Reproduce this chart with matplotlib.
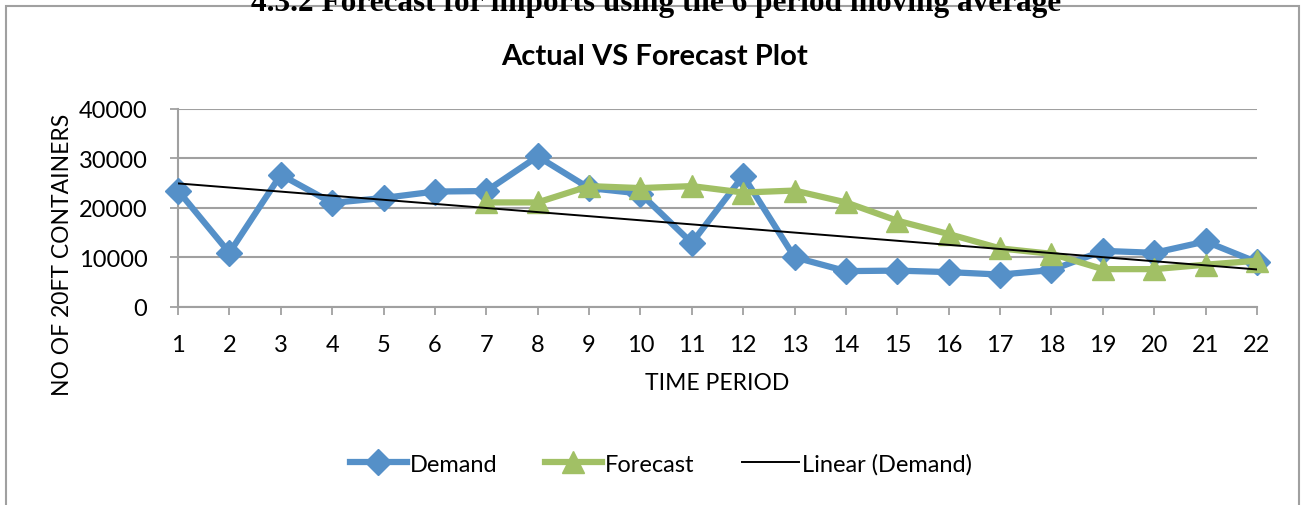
import numpy as np
import matplotlib
matplotlib.use("Agg")
import matplotlib.pyplot as plt
from matplotlib.patches import Rectangle

periods = list(range(1, 23))
demand = [23500, 10900, 26700, 21000, 22000, 23300, 23400, 30400, 24000, 22900, 12900,
          26500, 10000, 7200, 7300, 7000, 6500, 7400, 11300, 10900, 13200, 9000]
fc_periods = list(range(7, 23))
forecast = [21100, 21100, 24400, 24000, 24400, 23100, 23500, 21100, 17400, 14700, 11800,
            10700, 7600, 7600, 8500, 9300]
y_ticks = [0, 10000, 20000, 30000, 40000]

blue = "#5590C8"
green = "#A1C065"
grey = "#A0A0A0"

plt.rcParams["font.family"] = ["Lato", "DejaVu Sans"]

W, H = 1305, 506
fig = plt.figure(figsize=(W / 100, H / 100), dpi=100)
ax = fig.add_axes([178 / W, 1 - 307.7 / H, (1257 - 178) / W, (307.7 - 110) / H])

# trend line fitted on demand
k, b = np.polyfit(periods, demand, 1)
trend = np.polyval([k, b], periods)

ax.plot(periods, demand, color=blue, lw=4.5, marker="D", ms=13, mec=blue,
        label="Demand", zorder=3, clip_on=False)
ax.plot(fc_periods, forecast, color=green, lw=4.5, marker="^", ms=16, mec=green,
        label="Forecast", zorder=4, clip_on=False)
ax.plot(periods, trend, color="black", lw=1.4, label="Linear (Demand)", zorder=5)

ax.set_xlim(1, 22)
ax.set_ylim(0, 40000)
ax.set_xticks(periods)
ax.set_yticks(y_ticks)
ax.tick_params(labelsize=17, length=6, width=1.3, color=grey)
ax.tick_params(axis="y", pad=16)
ax.tick_params(axis="x", pad=14)
ax.grid(axis="y", color=grey, lw=1.5)
ax.set_axisbelow(True)
for s in ["top", "right"]:
    ax.spines[s].set_visible(False)
for s in ["left", "bottom"]:
    ax.spines[s].set_color(grey)
    ax.spines[s].set_linewidth(1.5)

fig.text(655 / W, 1 - 57 / H, "Actual VS Forecast Plot", ha="center", va="center",
         fontsize=21, fontweight="bold")
fig.text(717 / W, 1 - 384 / H, "TIME PERIOD", ha="center", va="center", fontsize=16.5)
fig.text(63 / W, 1 - 255 / H, "NO OF 20FT CONTAINERS", ha="center", va="center",
         rotation=90, fontsize=16.5)

# heading above the chart box, cut off by the top edge as in the source
fig.text(656 / W, 1 - 3 / H, "4.3.2 Forecast for imports using the 6 period moving average",
         ha="center", va="center", fontsize=22.5, fontweight="bold", family="Liberation Serif")

fig.patches.append(Rectangle((6 / W, -0.05), (1299 - 6) / W, 1 - 7 / H + 0.05,
                             transform=fig.transFigure, fill=False, ec=grey, lw=1.5))

leg = fig.legend(loc="center", bbox_to_anchor=(661 / W, 1 - 465 / H), ncol=3,
                 frameon=False, fontsize=17, handlelength=2.4, handletextpad=0.15,
                 columnspacing=2.0)

fig.savefig("out.png", dpi=100)
